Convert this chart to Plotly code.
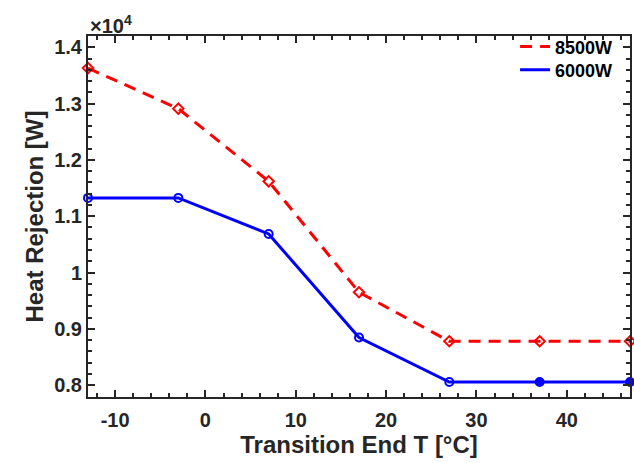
import plotly.graph_objects as go

# Data
transition_end_T = [-13, -3, 7, 17, 27, 37, 47]
heat_8500W = [13630, 12910, 11620, 9650, 8780, 8780, 8780]
heat_6000W = [11325, 11325, 10685, 8845, 8055, 8055, 8055]
series_names = ["8500W", "6000W"]
y_tick_vals = [8000, 9000, 10000, 11000, 12000, 13000, 14000]
y_tick_text = ["0.8", "0.9", "1", "1.1", "1.2", "1.3", "1.4"]
x_tick_vals = [-10, 0, 10, 20, 30, 40]
x_tick_text = ["-10", "0", "10", "20", "30", "40"]

FONT = "Liberation Sans, Arial, sans-serif"
TXT = "#262626"
RED = "#ff0000"
BLUE = "#0000ff"

fig = go.Figure()
# line traces (shown in legends)
fig.add_trace(go.Scatter(
    x=transition_end_T, y=heat_8500W, name=series_names[0], mode="lines",
    line=dict(color=RED, width=3, dash="12px,8px"), legend="legend", cliponaxis=False,
))
fig.add_trace(go.Scatter(
    x=transition_end_T, y=heat_6000W, name=series_names[1], mode="lines",
    line=dict(color=BLUE, width=3), legend="legend2", cliponaxis=False,
))
# markers
fig.add_trace(go.Scatter(
    x=transition_end_T, y=heat_8500W, mode="markers", showlegend=False,
    marker=dict(symbol="diamond-open", size=8, color=RED, line=dict(width=2, color=RED)),
    cliponaxis=False,
))
fig.add_trace(go.Scatter(
    x=transition_end_T, y=heat_6000W, mode="markers", showlegend=False,
    marker=dict(symbol=["circle-open"] * 5 + ["circle", "circle"], size=8,
                color=BLUE, line=dict(width=2, color=BLUE)),
    cliponaxis=False,
))

axis_common = dict(
    showline=True, linecolor=TXT, linewidth=2, mirror="ticks",
    ticks="inside", ticklen=7, tickwidth=2, tickcolor=TXT,
    showgrid=False, zeroline=False,
    tickfont=dict(family=FONT, size=20, color=TXT, weight="bold"),
)

fig.update_xaxes(
    range=[-13, 47], tickvals=x_tick_vals, ticktext=x_tick_text,
    minor=dict(dtick=2, tick0=0, ticks="inside", ticklen=4, tickwidth=1.5, tickcolor=TXT),
    ticklabelstandoff=4,
    title=dict(text="<b>Transition End T [°C]</b>", font=dict(family=FONT, size=24, color=TXT), standoff=4),
    **axis_common,
)
fig.update_yaxes(
    range=[7790, 14200], tickvals=y_tick_vals, ticktext=y_tick_text,
    minor=dict(dtick=200, tick0=8000, ticks="inside", ticklen=4, tickwidth=1.5, tickcolor=TXT),
    title=dict(text="<b>Heat Rejection [W]</b>", font=dict(family=FONT, size=24, color=TXT), standoff=4),
    **axis_common,
)

fig.add_annotation(
    xref="paper", yref="paper", x=0, y=1, xanchor="left", yanchor="bottom",
    text="×10<sup>4</sup>", showarrow=False,
    font=dict(family=FONT, size=20, color=TXT, weight="bold"), yshift=-3,
)

legend_common = dict(
    xanchor="right", yanchor="middle", x=0.978,
    bgcolor="rgba(0,0,0,0)", borderwidth=0,
    font=dict(family=FONT, size=18, color="black", weight="bold"),
    itemwidth=30,
)

fig.update_layout(
    width=634, height=463,
    margin=dict(l=88, r=2, t=36, b=66),
    paper_bgcolor="white", plot_bgcolor="white",
    showlegend=True,
    legend=dict(y=0.97, **legend_common),
    legend2=dict(y=0.906, **legend_common),
)

fig.write_html("out.html")
